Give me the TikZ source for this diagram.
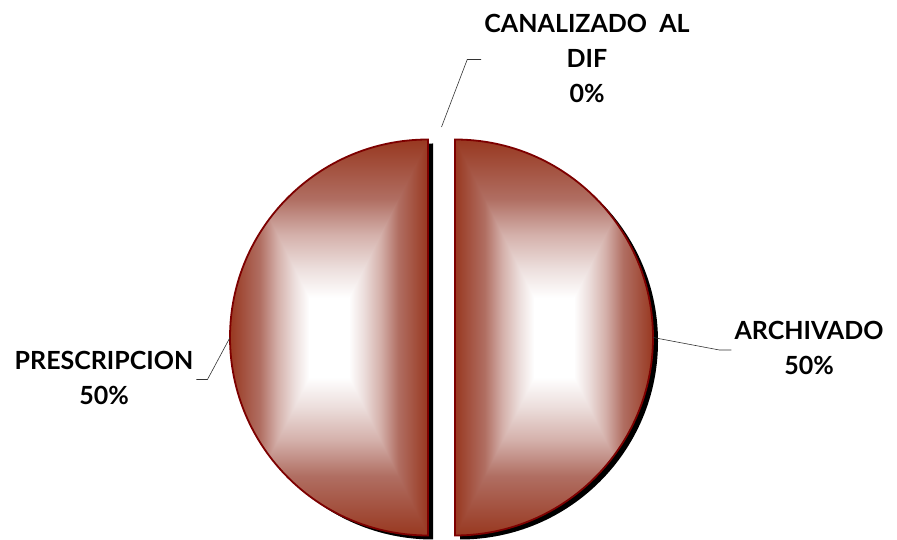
\documentclass[tikz,border=0pt]{standalone}
\usepackage{fontspec}
\setmainfont{Lato}
\usetikzlibrary{calc}
\usetikzlibrary{positioning}
\definecolor{slicered}{RGB}{152,56,32}
\definecolor{slicemid}{RGB}{176,110,98}
\definecolor{slicelight}{RGB}{212,176,170}
\definecolor{slicepale}{RGB}{236,222,220}
\definecolor{sliceline}{RGB}{125,0,0}
\pgfdeclareverticalshading{slicev}{100bp}{color(0bp)=(slicered); color(25bp)=(slicered);
  color(32.5bp)=(slicemid); color(37bp)=(slicelight); color(41.25bp)=(slicepale);
  color(45bp)=(white); color(55bp)=(white); color(58.75bp)=(slicepale);
  color(63bp)=(slicelight); color(67.5bp)=(slicemid); color(75bp)=(slicered); color(100bp)=(slicered)}
\pgfdeclarehorizontalshading{sliceh}{100bp}{color(0bp)=(slicered); color(25bp)=(slicered);
  color(32.5bp)=(slicemid); color(37bp)=(slicelight); color(41.25bp)=(slicepale);
  color(45bp)=(white); color(55bp)=(white); color(58.75bp)=(slicepale);
  color(63bp)=(slicelight); color(67.5bp)=(slicemid); color(75bp)=(slicered); color(100bp)=(slicered)}
\tikzset{%
  label/.style={align=center, inner sep=3pt, font=\bfseries\fontsize{25}{35}\selectfont},% slice name and share
  leader/.style={draw=black!80, line width=0.6pt},% line from slice to label
  sliceedge/.style={draw=sliceline, line width=1.8pt},% outline of a slice
  sliceshadow/.style={fill=black}% drop shadow of a slice
}
\newcommand*{\pieR}{198}
\newcommand*{\pieY}{202.5}
% #1 = x of the flat edge, #2 = side (-1 left, 1 right)
\newcommand*{\halfslice}[2]{
  \begin{scope}[shift={(#1,\pieY)}]
    \fill[sliceshadow, shift={(5,-4)}] (0,\pieR) arc[start angle=90, delta angle={-180*(#2)}, radius=\pieR] -- cycle;
    \begin{scope}
      \clip (0,\pieR) arc[start angle=90, delta angle={-180*(#2)}, radius=\pieR] -- cycle;
      \shade[shading=slicev] (0,-\pieR) rectangle ({#2*\pieR},\pieR);
      \shade[shading=sliceh] (0,\pieR) -- (0,-\pieR) -- ({#2*\pieR/2},0) -- cycle
        ({#2*\pieR},\pieR) -- ({#2*\pieR},-\pieR) -- ({#2*\pieR/2},0) -- cycle;
    \end{scope}
    \draw[sliceedge] (0,\pieR) arc[start angle=90, delta angle={-180*(#2)}, radius=\pieR] -- cycle;
  \end{scope}}

\begin{document}
\begin{tikzpicture}[x=1pt, y=1pt]
  \useasboundingbox (0,0) rectangle (897,540);
  % The two halves of the pie:
  \halfslice{428}{-1}
  \halfslice{455}{1}
  % Points where the leaders start:
  \coordinate (pC) at (441.5,413);
  \coordinate (pP) at (230,\pieY);
  \coordinate (pA) at (653,\pieY);
  % Labels:
  \node[label] (lblC) at (587,481.5) {CANALIZADO\ \ AL\\DIF\\0\%};
  \node[label] (lblP) at (104,162.5) {PRESCRIPCION\\50\%};
  \node[label] (lblA) at (809,192) {ARCHIVADO\\50\%};
  % Leaders:
  \draw[leader] (pC) -- ($(lblC.west)+(-14,-1)$) -- ($(lblC.west)+(0,-1)$);
  \draw[leader] (pP) -- ($(lblP.east)+(11,-2)$) -- ($(lblP.east)+(0,-2)$);
  \draw[leader] (pA) -- ($(lblA.west)+(-12,-2)$) -- ($(lblA.west)+(0,-2)$);
\end{tikzpicture}
\end{document}
